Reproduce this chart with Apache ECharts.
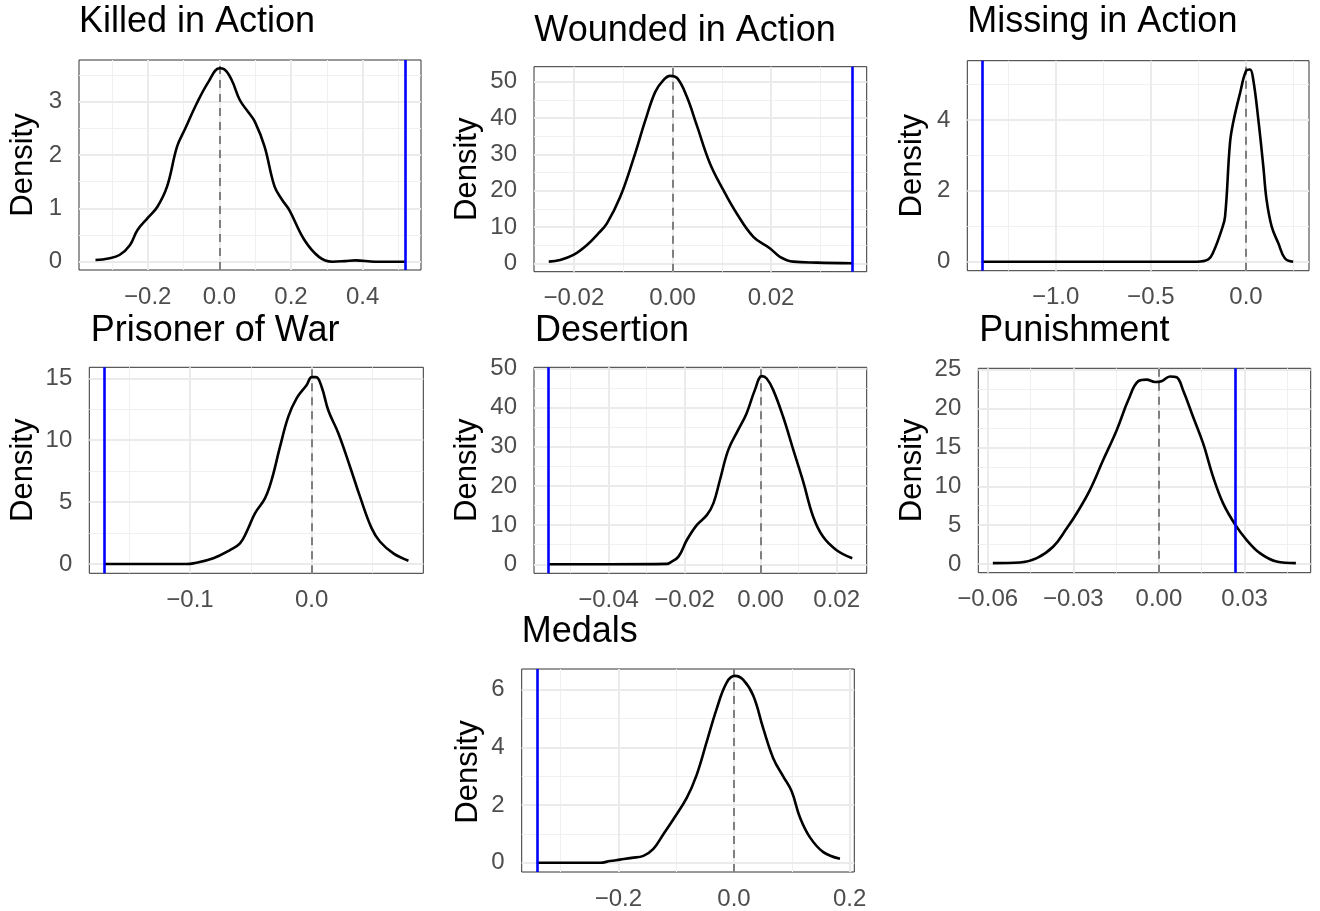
<!DOCTYPE html>
<html><head><meta charset="utf-8">
<script src="https://cdn.jsdelivr.net/npm/echarts@6/dist/echarts.min.js"></script>
<style>html,body{margin:0;padding:0;background:#fff}#c{width:1320px;height:911px}</style>
</head><body><div id="c"></div>
<script>
// ---------- titles ----------
const panelTitles = ['Killed in Action','Wounded in Action','Missing in Action','Prisoner of War','Desertion','Punishment','Medals'];
const yTitle = 'Density';

// ---------- observed values (blue lines) ----------
const observed = [0.518, 0.0365, -1.388, -0.1704, -0.0559, 0.0269, -0.3412];

// ---------- density curves ----------
const kiaX = [-0.346,-0.31,-0.279,-0.25,-0.229,-0.2,-0.173,-0.146,-0.118,-0.095,-0.063,-0.03,0,0.013,0.034,0.057,0.08,0.099,0.126,0.154,0.175,0.195,0.237,0.278,0.315,0.35,0.38,0.435,0.518];
const kiaY = [0.03,0.06,0.125,0.31,0.59,0.82,1.03,1.41,2.16,2.5,2.97,3.375,3.625,3.61,3.41,3.03,2.81,2.625,2.16,1.41,1.16,0.97,0.41,0.09,0.0,0.01,0.025,0.0,0.0];

const wiaX = [-0.0251,-0.0228,-0.0201,-0.0174,-0.015,-0.0133,-0.0106,-0.0079,-0.0055,-0.0035,-0.0018,-0.0005,0.001,0.0029,0.0049,0.0076,0.0103,0.013,0.0164,0.0198,0.0218,0.0245,0.0293,0.0365];
const wiaY = [0.46,0.92,2.3,5.0,8.3,11,18.3,28.9,39.4,47.2,50.5,51.6,50.9,45.9,38.1,27.5,20.2,13.8,7.3,4.1,1.8,0.46,0.18,0];

const miaX = [-1.388,-0.6,-0.259,-0.198,-0.171,-0.128,-0.11,-0.084,-0.066,-0.031,0,0.021,0.038,0.065,0.091,0.108,0.135,0.17,0.205,0.248];
const miaY = [0,0,0,0.066,0.28,0.9,1.27,3.35,3.96,4.76,5.38,5.42,5.14,4.0,2.69,1.75,0.99,0.52,0.09,0];

const powX = [-0.1704,-0.13,-0.103,-0.0973,-0.0808,-0.0671,-0.0589,-0.0534,-0.0466,-0.0384,-0.0329,-0.026,-0.0192,-0.0123,-0.0041,0,0.0036,0.0082,0.0137,0.0219,0.0315,0.0397,0.0493,0.0562,0.0671,0.0795];
const powY = [0,0,0,0.05,0.46,1.13,1.67,2.61,4.09,5.3,6.79,9.48,11.9,13.4,14.46,15.1,15.1,14.3,12.4,10.56,7.86,5.44,2.88,1.8,0.86,0.27];

const desX = [-0.0559,-0.04,-0.0246,-0.0238,-0.0216,-0.0194,-0.0168,-0.0141,-0.0124,-0.0107,-0.0085,-0.0059,-0.0037,-0.0015,0.0003,0.0016,0.0033,0.0059,0.0086,0.0112,0.0138,0.0164,0.0199,0.0241];
const desY = [0,0,0.1,0.43,1.96,6.2,10.0,12.6,15.6,21.5,29.2,34.3,38.5,44.5,48.0,47.4,44.5,37.7,29.2,21.1,12.2,7.06,3.66,1.53];

const punX = [-0.0582,-0.0487,-0.0428,-0.037,-0.0323,-0.0288,-0.0242,-0.0195,-0.0148,-0.0107,-0.0072,-0.0043,-0.0014,0.0009,0.0039,0.0062,0.0085,0.012,0.0155,0.019,0.0225,0.0268,0.0307,0.0354,0.0412,0.048];
const punY = [0.13,0.21,0.77,2.26,4.6,6.54,9.5,13.4,17.2,21.1,23.5,23.7,23.4,23.5,24.1,24.0,22.3,18.9,15.5,11.2,7.8,5.04,3.12,1.41,0.34,0.13];

const medX = [-0.3412,-0.28,-0.2317,-0.2144,-0.1971,-0.1769,-0.1568,-0.1395,-0.1222,-0.1049,-0.0818,-0.0646,-0.0473,-0.03,-0.0127,0.0017,0.0161,0.0334,0.0507,0.068,0.0853,0.0997,0.1141,0.1314,0.1545,0.1833];
const medY = [0,0,0,0.06,0.11,0.17,0.24,0.48,0.99,1.51,2.25,3.05,4.19,5.34,6.25,6.48,6.34,5.79,4.65,3.62,2.99,2.48,1.57,0.88,0.37,0.14];

// ---------- axis ranges ----------
const xRanges = [[-0.392,0.563],[-0.0281,0.0394],[-1.464,0.331],[-0.1827,0.0917],[-0.0596,0.0279],[-0.0633,0.0532],[-0.3673,0.2081]];
const yRanges = [[-0.156,3.78],[-2.31,54.13],[-0.254,5.67],[-0.75,15.89],[-2.30,50.26],[-1.1,25.15],[-0.32,6.72]];

// ---------- tick values & labels ----------
const xTicks = [[-0.2,0,0.2,0.4],[-0.02,0,0.02],[-1,-0.5,0],[-0.1,0],[-0.04,-0.02,0,0.02],[-0.06,-0.03,0,0.03],[-0.2,0,0.2]];
const xTickLabels = [['\u22120.2','0.0','0.2','0.4'],['\u22120.02','0.00','0.02'],['\u22121.0','\u22120.5','0.0'],['\u22120.1','0.0'],['\u22120.04','\u22120.02','0.00','0.02'],['\u22120.06','\u22120.03','0.00','0.03'],['\u22120.2','0.0','0.2']];
const xMinor = [[-0.3,-0.1,0.1,0.3,0.5],[-0.01,0.01,0.03],[-1.25,-0.75,-0.25,0.25],[-0.15,-0.05,0.05],[-0.05,-0.03,-0.01,0.01],[-0.045,-0.015,0.015,0.045],[-0.3,-0.1,0.1]];
const yTicks = [[0,1,2,3],[0,10,20,30,40,50],[0,2,4],[0,5,10,15],[0,10,20,30,40,50],[0,5,10,15,20,25],[0,2,4,6]];
const yMinor = [[0.5,1.5,2.5,3.5],[5,15,25,35,45],[1,3,5],[2.5,7.5,12.5],[5,15,25,35,45],[2.5,7.5,12.5,17.5,22.5],[1,3,5]];

// ---------- layout (pixels) ----------
const layout = [
  {left:79,   top:60,    width:342,   height:210,   tx:79,    ty:22.5,  dx:23.5},
  {left:534,  top:66.7,  width:332.7, height:205,   tx:534.3, ty:30.8,  dx:467},
  {left:967.3,top:60.7,  width:341.7, height:210,   tx:967.3, ty:22.5,  dx:912.5},
  {left:89.3, top:367.3, width:334,   height:206,   tx:90.7,  ty:330.8, dx:23},
  {left:534,  top:367.3, width:332.7, height:206,   tx:535,   ty:331.5, dx:467},
  {left:978.3,top:368.3, width:332.4, height:204.4, tx:979.3, ty:331.5, dx:912},
  {left:521.7,top:669,   width:332.6, height:206,   tx:521.7, ty:632.5, dx:468.5}
];

const curvesX = [kiaX, wiaX, miaX, powX, desX, punX, medX];
const curvesY = [kiaY, wiaY, miaY, powY, desY, punY, medY];

const FONT = '"Liberation Sans", Arial, Helvetica, sans-serif';
const GRID_MAJOR = '#ebebeb';
const GRID_MINOR = '#f0f0f0';

function vline(z, data) {
  return {z:z, silent:true, precision:10, symbol:['none','none'], label:{show:false}, animation:false, data:data};
}

const grids = [], xAxes = [], yAxes = [], series = [], graphics = [];
layout.forEach((L, i) => {
  grids.push({left:L.left, top:L.top, width:L.width, height:L.height, show:true,
    borderColor:'#333333', borderWidth:1, backgroundColor:'#ffffff', containLabel:false});
  const xt = xTicks[i], xl = xTickLabels[i];
  xAxes.push({gridIndex:i, type:'value', min:xRanges[i][0], max:xRanges[i][1],
    axisLine:{show:false}, splitLine:{show:false},
    axisTick:{show:true, customValues:xt, length:8, lineStyle:{color:'#333333', width:1.6}},
    axisLabel:{customValues:xt, color:'#4d4d4d', fontSize:24, fontFamily:FONT, margin:15,
      formatter:(v)=>{const k=xt.findIndex(t=>Math.abs(t-v)<1e-9); return k>=0?xl[k]:'';}}
  });
  const yt = yTicks[i];
  yAxes.push({gridIndex:i, type:'value', min:yRanges[i][0], max:yRanges[i][1],
    axisLine:{show:false}, splitLine:{show:false},
    axisTick:{show:true, customValues:yt, length:8, lineStyle:{color:'#333333', width:1.6}},
    axisLabel:{customValues:yt, color:'#4d4d4d', fontSize:24, fontFamily:FONT, margin:17,
      formatter:(v)=>{const k=yt.findIndex(t=>Math.abs(t-v)<1e-9); return k>=0?String(yt[k]):'';}}
  });
  // grid lines through the axes' scales (below everything)
  const gl = [];
  xMinor[i].forEach(v=>gl.push({xAxis:v, lineStyle:{color:GRID_MINOR, width:1, type:'solid'}}));
  yMinor[i].forEach(v=>gl.push({yAxis:v, lineStyle:{color:GRID_MINOR, width:1, type:'solid'}}));
  xt.forEach(v=>gl.push({xAxis:v, lineStyle:{color:GRID_MAJOR, width:2, type:'solid'}}));
  yt.forEach(v=>gl.push({yAxis:v, lineStyle:{color:GRID_MAJOR, width:2, type:'solid'}}));
  series.push({type:'line', xAxisIndex:i, yAxisIndex:i, data:[], z:1, silent:true, markLine:vline(1, gl)});
  // zero reference line (dashed)
  series.push({type:'line', xAxisIndex:i, yAxisIndex:i, data:[], z:2, silent:true,
    markLine:vline(2, [{xAxis:0, lineStyle:{color:'#7f7f7f', width:2, type:[8,6]}}])});
  // density curve
  series.push({type:'line', xAxisIndex:i, yAxisIndex:i, z:3, silent:true,
    data: curvesX[i].map((x,k)=>[x, curvesY[i][k]]),
    smooth:0.4, showSymbol:false, symbol:'none',
    lineStyle:{color:'#000000', width:2.6}});
  // observed value (blue)
  series.push({type:'line', xAxisIndex:i, yAxisIndex:i, data:[], z:4, silent:true,
    markLine:vline(4, [{xAxis:observed[i], lineStyle:{color:'#0000ff', width:2.6, type:'solid'}}])});
  graphics.push({type:'text', x:L.tx, y:L.ty, z:10,
    style:{text:panelTitles[i], fill:'#000', font:'36px ' + FONT, align:'left', verticalAlign:'middle'}});
  graphics.push({type:'text', x:L.dx, y:L.top + L.height/2, rotation:Math.PI/2, z:10,
    style:{text:yTitle, fill:'#000', font:'31px ' + FONT, align:'center', verticalAlign:'middle'}});
});

const chart = echarts.init(document.getElementById('c'), null, {renderer:'canvas'});
chart.setOption({animation:false, backgroundColor:'#ffffff',
  grid:grids, xAxis:xAxes, yAxis:yAxes, series:series, graphic:graphics});
</script></body></html>
